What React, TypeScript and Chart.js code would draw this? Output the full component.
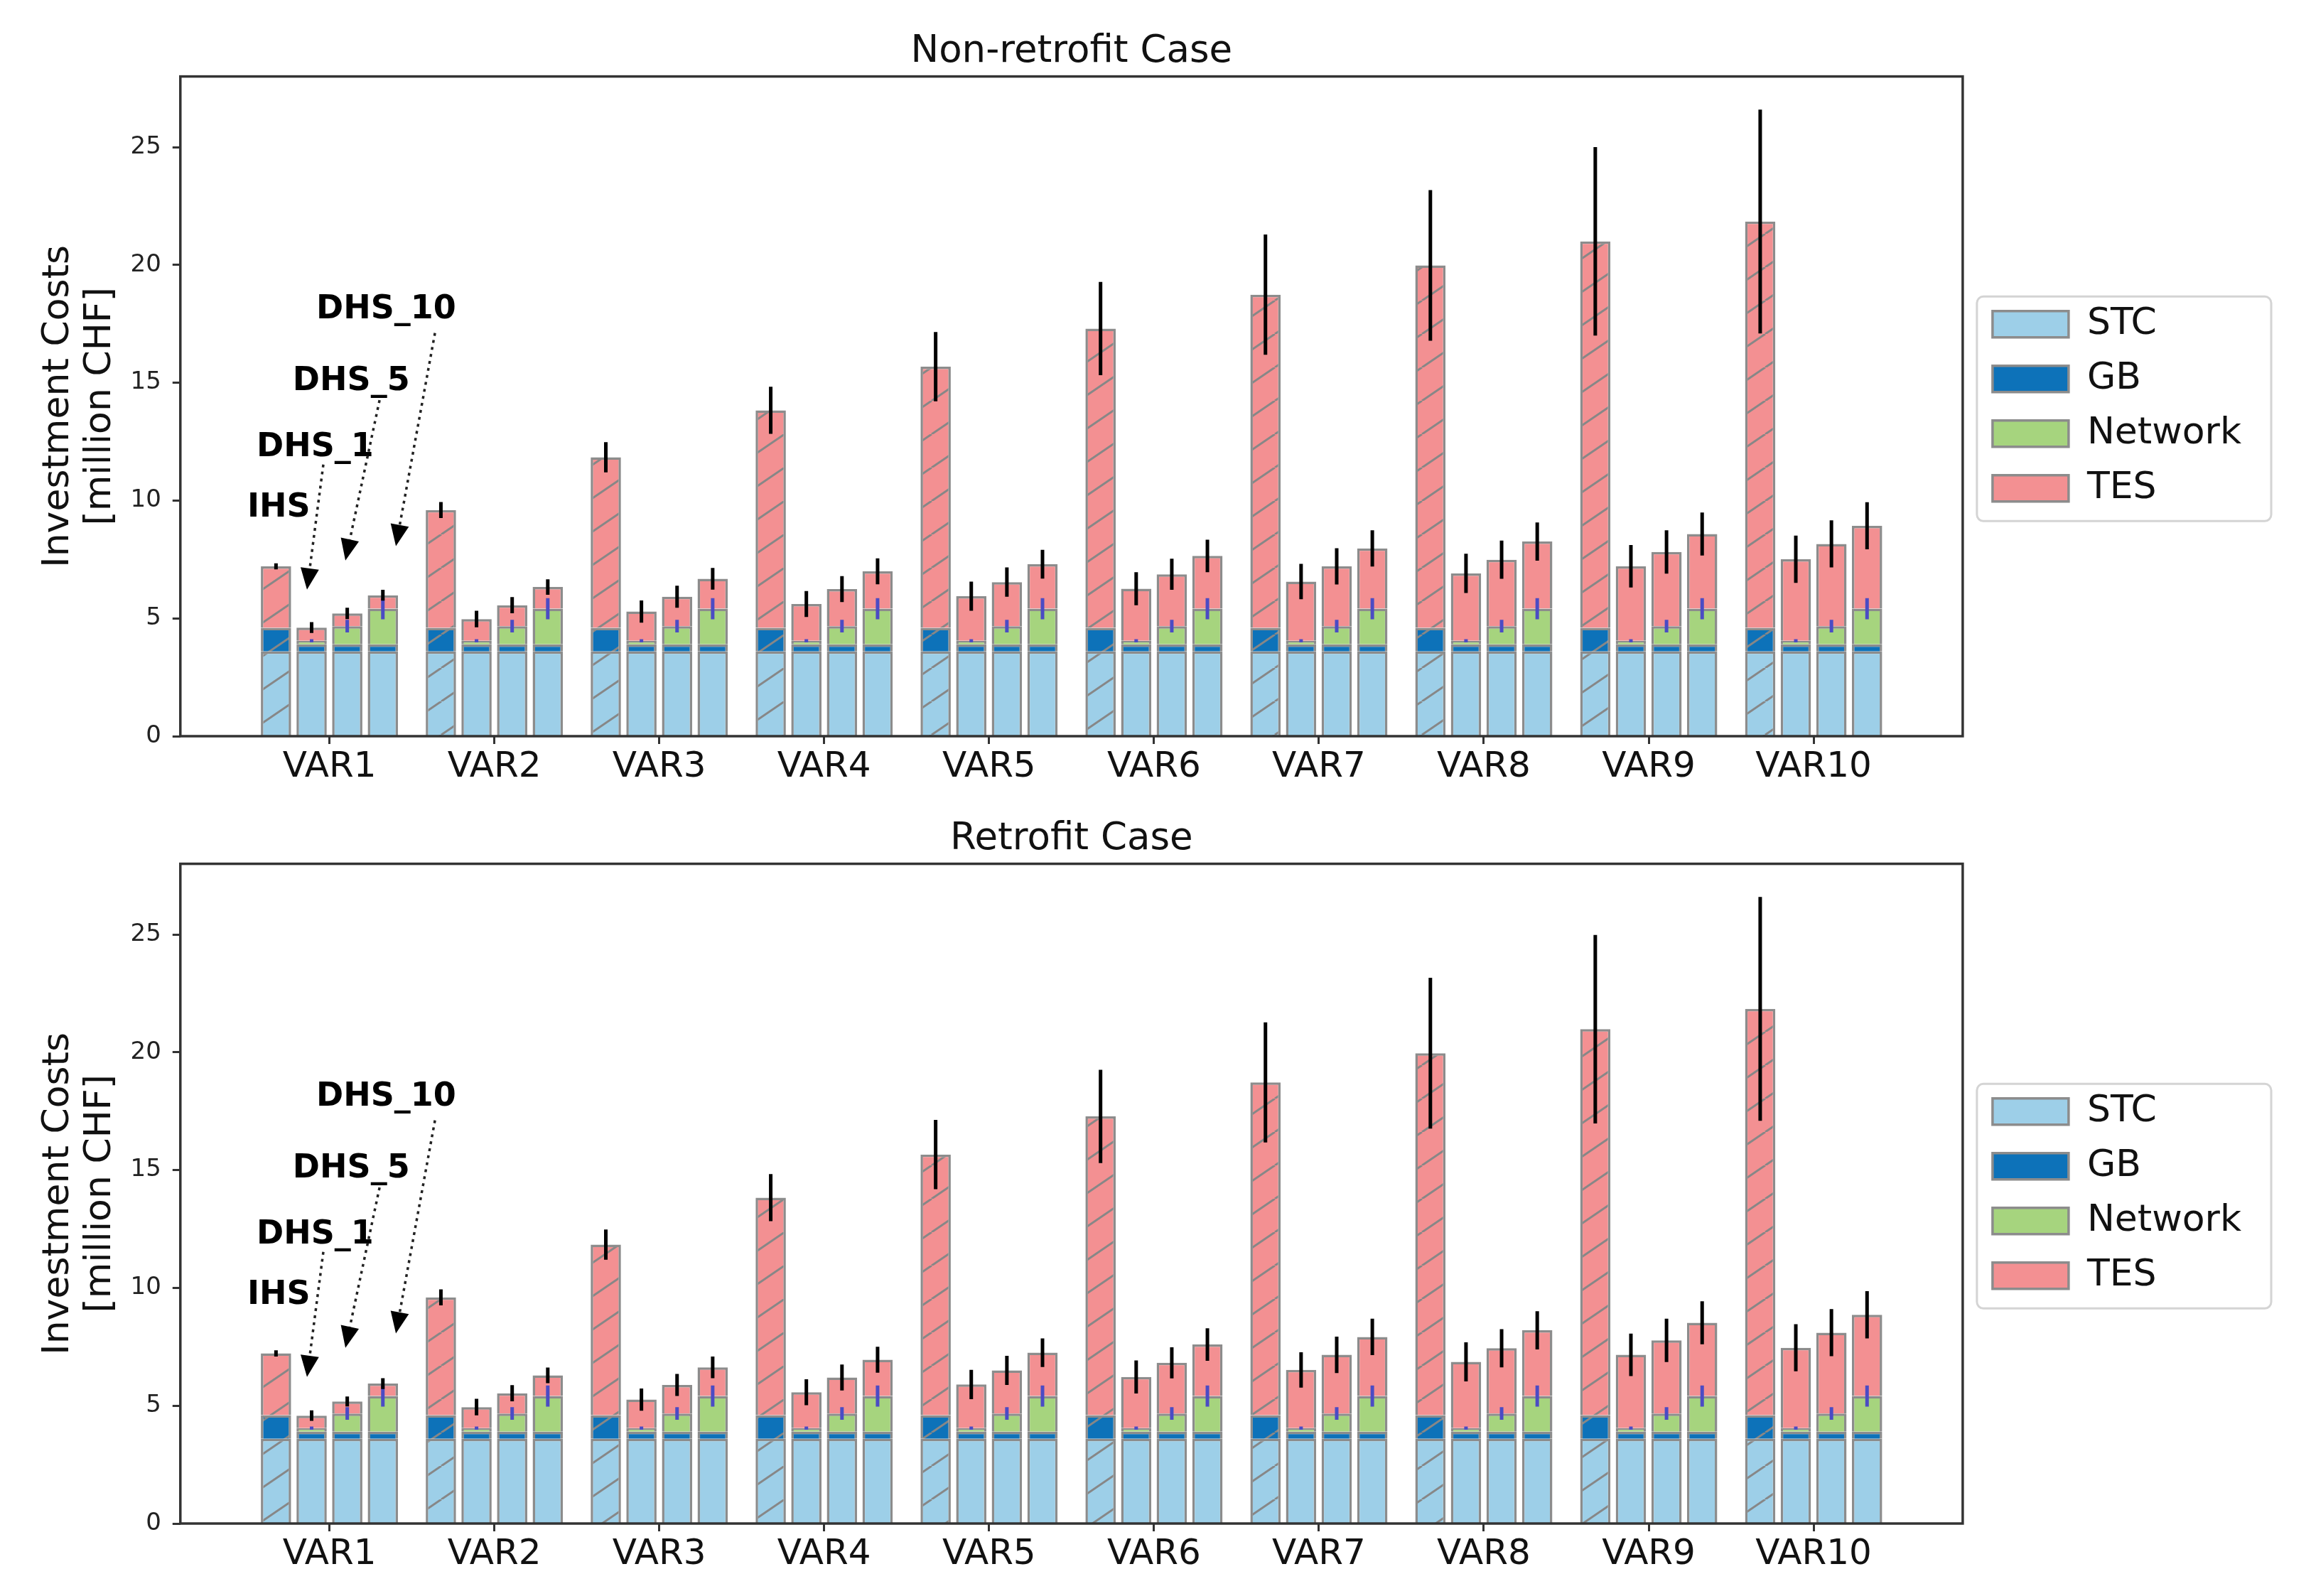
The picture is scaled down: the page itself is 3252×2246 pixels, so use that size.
import React, { useEffect, useRef } from 'react';
import { Chart, registerables } from 'chart.js';

Chart.register(...registerables);
Chart.defaults.font.family = '"DejaVu Sans", sans-serif';

// ---------------- data ----------------
const categories = ['VAR1', 'VAR2', 'VAR3', 'VAR4', 'VAR5', 'VAR6', 'VAR7', 'VAR8', 'VAR9', 'VAR10'];
const variants = ['IHS', 'DHS_1', 'DHS_5', 'DHS_10'];
const components = ['STC', 'GB', 'Network', 'TES'];

// components that are equal for every VAR (per variant IHS, DHS_1, DHS_5, DHS_10)
const stcCost = [3.6, 3.6, 3.6, 3.6];
const gbCost = [1.0, 0.3, 0.3, 0.3];
const networkCost = [0, 0.15, 0.77, 1.51];
const networkErr = [0, 0.07, 0.27, 0.45];

// TES cost, Non-retrofit case
const tesNonRetrofitIHS = [2.61, 5.0, 7.24, 9.23, 11.08, 12.7, 14.14, 15.38, 16.4, 17.24];
const tesNonRetrofitDHS1 = [0.56, 0.92, 1.24, 1.56, 1.89, 2.21, 2.51, 2.86, 3.16, 3.46];
const tesNonRetrofitDHS5 = [0.54, 0.89, 1.25, 1.57, 1.87, 2.2, 2.54, 2.82, 3.15, 3.49];
const tesNonRetrofitDHS10 = [0.57, 0.92, 1.27, 1.59, 1.89, 2.24, 2.56, 2.85, 3.17, 3.52];

// total error, Non-retrofit case
const errNonRetrofitIHS = [0.13, 0.34, 0.64, 1.0, 1.47, 1.98, 2.55, 3.2, 4.0, 4.75];
const errNonRetrofitDHS1 = [0.23, 0.35, 0.47, 0.55, 0.62, 0.7, 0.75, 0.83, 0.9, 1.0];
const errNonRetrofitDHS5 = [0.24, 0.34, 0.47, 0.55, 0.62, 0.66, 0.77, 0.81, 0.92, 1.0];
const errNonRetrofitDHS10 = [0.23, 0.33, 0.46, 0.55, 0.61, 0.69, 0.77, 0.81, 0.91, 1.0];

// TES cost, Retrofit case
const tesRetrofitIHS = [2.62, 5.0, 7.24, 9.23, 11.06, 12.68, 14.12, 15.36, 16.38, 17.24];
const tesRetrofitDHS1 = [0.53, 0.89, 1.21, 1.52, 1.85, 2.17, 2.47, 2.81, 3.11, 3.41];
const tesRetrofitDHS5 = [0.51, 0.86, 1.21, 1.53, 1.83, 2.15, 2.49, 2.77, 3.1, 3.43];
const tesRetrofitDHS10 = [0.53, 0.88, 1.22, 1.54, 1.84, 2.19, 2.51, 2.79, 3.11, 3.45];

// total error, Retrofit case
const errRetrofitIHS = [0.13, 0.34, 0.64, 1.0, 1.47, 1.98, 2.55, 3.2, 4.0, 4.75];
const errRetrofitDHS1 = [0.22, 0.35, 0.47, 0.55, 0.62, 0.7, 0.75, 0.83, 0.9, 1.0];
const errRetrofitDHS5 = [0.21, 0.34, 0.47, 0.55, 0.62, 0.66, 0.77, 0.81, 0.92, 1.0];
const errRetrofitDHS10 = [0.23, 0.33, 0.46, 0.55, 0.61, 0.69, 0.77, 0.81, 0.91, 1.0];

// annotation labels (data coordinates)
const noteLabels = ['IHS', 'DHS_1', 'DHS_5', 'DHS_10'];
const noteTextX = [-0.498, -0.442, -0.223, -0.08];
const noteTextY = [9.68, 12.23, 15.05, 18.08];
const noteArrowFromX = [NaN, -0.037, 0.304, 0.64];
const noteArrowFromY = [NaN, 11.53, 14.26, 17.11];
const noteArrowToX = [NaN, -0.136, 0.097, 0.403];
const noteArrowToY = [NaN, 6.22, 7.46, 8.07];

// ---------------- style ----------------
const COLORS = ['#9dcfe8', '#0d72b9', '#a6d47e', '#f39092'];
const EDGE = '#8c8c8c';
const HATCH = '#878787';
const ERR_COLOR = '#000000';
const NET_ERR_COLOR = '#4b4bc4';
const variantOffsets = [-0.324, -0.108, 0.108, 0.324];
const X_MIN = -0.904;
const X_MAX = 9.904;
const Y_MAX = 28;
const LEGEND_SHIFT = 17;

function makeHatch(color: string): CanvasPattern {
  const w = 69;
  const h = 47;
  const c = document.createElement('canvas');
  c.width = w;
  c.height = h;
  const g = c.getContext('2d') as CanvasRenderingContext2D;
  g.fillStyle = color;
  g.fillRect(0, 0, w, h);
  g.strokeStyle = HATCH;
  g.lineWidth = 3;
  g.beginPath();
  for (const k of [-1, 0, 1]) {
    g.moveTo(k * w, h);
    g.lineTo(k * w + w, 0);
  }
  g.stroke();
  return g.createPattern(c, 'repeat') as CanvasPattern;
}

function buildDatasets(tes: number[][], err: number[][]) {
  const hatches = COLORS.map((c) => makeHatch(c));
  const ds: any[] = [];
  variants.forEach((_vName, v) => {
    const perVar = [stcCost[v], gbCost[v], networkCost[v]];
    let base = categories.map(() => 0);
    let netTop = categories.map(() => 0);
    components.forEach((cName, c) => {
      const vals = categories.map((_, i) => (c < 3 ? perVar[c] : tes[v][i]));
      const data = categories.map((_, i) => ({ x: i + variantOffsets[v], y: [base[i], base[i] + vals[i]] }));
      base = base.map((b, i) => b + vals[i]);
      if (c === 2) netTop = base.slice();
      ds.push({
        label: cName,
        data,
        backgroundColor: v === 0 ? hatches[c] : COLORS[c],
        borderColor: EDGE,
        borderWidth: 3.5,
        grouped: false,
        barPercentage: 0.85,
        categoryPercentage: 1,
        order: 2,
        showInLegend: v === 1,
      });
    });
    if (v > 0) {
      ds.push({
        label: 'network error',
        data: categories.map((_, i) => ({
          x: i + variantOffsets[v],
          y: [netTop[i] - networkErr[v], netTop[i] + networkErr[v]],
        })),
        backgroundColor: NET_ERR_COLOR,
        borderWidth: 0,
        grouped: false,
        maxBarThickness: 5,
        order: 1,
        showInLegend: false,
      });
    }
    ds.push({
      label: 'total error',
      data: categories.map((_, i) => ({
        x: i + variantOffsets[v],
        y: [base[i] - err[v][i], base[i] + err[v][i]],
      })),
      backgroundColor: ERR_COLOR,
      borderWidth: 0,
      grouped: false,
      maxBarThickness: 5,
      order: 0,
      showInLegend: false,
    });
  });
  return ds;
}

const decorPlugin = {
  id: 'decor',
  afterLayout(chart: any) {
    const lg = chart.legend;
    if (lg) {
      lg.left += LEGEND_SHIFT;
      lg.right += LEGEND_SHIFT;
    }
  },
  beforeDraw(chart: any) {
    const lg = chart.legend;
    const hb = lg && lg.legendHitBoxes;
    if (!hb || !hb.length) return;
    const ctx = chart.ctx;
    let right = 0;
    hb.forEach((h: any) => (right = Math.max(right, h.left + h.width)));
    const left = hb[0].left - 22;
    const top = hb[0].top - 13;
    const last = hb[hb.length - 1];
    const bottom = last.top + last.height + 20;
    right += 42;
    ctx.save();
    ctx.beginPath();
    const r = 9;
    ctx.moveTo(left + r, top);
    ctx.arcTo(right, top, right, bottom, r);
    ctx.arcTo(right, bottom, left, bottom, r);
    ctx.arcTo(left, bottom, left, top, r);
    ctx.arcTo(left, top, right, top, r);
    ctx.closePath();
    ctx.fillStyle = '#ffffff';
    ctx.fill();
    ctx.strokeStyle = '#d4d4d4';
    ctx.lineWidth = 3;
    ctx.stroke();
    ctx.restore();
  },
  afterDatasetsDraw(chart: any) {
    const ctx = chart.ctx;
    const { left, top, right, bottom } = chart.chartArea;
    const xs = chart.scales.x;
    const ys = chart.scales.y;
    ctx.save();
    ctx.strokeStyle = '#333333';
    ctx.lineWidth = 3.5;
    ctx.strokeRect(left, top, right - left, bottom - top);

    ctx.fillStyle = '#000000';
    ctx.font = 'bold 46px "DejaVu Sans", sans-serif';
    ctx.textAlign = 'left';
    ctx.textBaseline = 'middle';
    noteLabels.forEach((t, k) => {
      ctx.fillText(t, xs.getPixelForValue(noteTextX[k]), ys.getPixelForValue(noteTextY[k]));
      if (isNaN(noteArrowFromX[k])) return;
      const x0 = xs.getPixelForValue(noteArrowFromX[k]);
      const y0 = ys.getPixelForValue(noteArrowFromY[k]);
      const x1 = xs.getPixelForValue(noteArrowToX[k]);
      const y1 = ys.getPixelForValue(noteArrowToY[k]);
      const len = Math.hypot(x1 - x0, y1 - y0);
      const dx = (x1 - x0) / len;
      const dy = (y1 - y0) / len;
      const hl = 30;
      const hw = 13;
      ctx.save();
      ctx.strokeStyle = '#222222';
      ctx.lineWidth = 3.5;
      ctx.setLineDash([4, 6]);
      ctx.beginPath();
      ctx.moveTo(x0, y0);
      ctx.lineTo(x1 - dx * hl, y1 - dy * hl);
      ctx.stroke();
      ctx.restore();
      ctx.beginPath();
      ctx.moveTo(x1, y1);
      ctx.lineTo(x1 - dx * hl - dy * hw, y1 - dy * hl + dx * hw);
      ctx.lineTo(x1 - dx * hl + dy * hw, y1 - dy * hl - dx * hw);
      ctx.closePath();
      ctx.fill();
    });
    ctx.restore();
  },
};

function makeConfig(title: string, tes: number[][], err: number[][], padBottom: number, titlePad: { top: number; bottom: number }): any {
  return {
    type: 'bar',
    data: { datasets: buildDatasets(tes, err) },
    plugins: [decorPlugin],
    options: {
      animation: false,
      responsive: false,
      devicePixelRatio: 1,
      events: [],
      layout: { padding: { left: 0, top: 0, right: 105, bottom: padBottom } },
      plugins: {
        tooltip: { enabled: false },
        title: {
          display: true,
          text: title,
          fullSize: false,
          color: '#111111',
          font: { size: 53, weight: 'normal' },
          padding: titlePad,
        },
        legend: {
          display: true,
          position: 'right',
          align: 'center',
          fullSize: false,
          labels: {
            boxWidth: 107,
            boxHeight: 37,
            padding: 25,
            color: '#111111',
            font: { size: 52 },
            filter: (item: any, data: any) => !!data.datasets[item.datasetIndex].showInLegend,
          },
        },
      },
      scales: {
        x: {
          type: 'linear',
          min: X_MIN,
          max: X_MAX,
          offset: false,
          afterBuildTicks: (scale: any) => {
            scale.ticks = categories.map((_, i) => ({ value: i }));
          },
          ticks: {
            includeBounds: false,
            autoSkip: false,
            maxRotation: 0,
            minRotation: 0,
            padding: 8,
            color: '#111111',
            font: { size: 50, lineHeight: 1.0 },
            callback: (v: any) => categories[Math.round(v)] ?? '',
          },
          grid: {
            display: true,
            offset: false,
            drawOnChartArea: false,
            drawTicks: true,
            tickLength: 11,
            tickWidth: 3,
            tickColor: '#333333',
          },
          border: { display: false },
        },
        y: {
          type: 'linear',
          min: 0,
          max: Y_MAX,
          ticks: {
            stepSize: 5,
            includeBounds: false,
            padding: 16,
            color: '#222222',
            font: { size: 34 },
          },
          grid: {
            display: true,
            drawOnChartArea: false,
            drawTicks: true,
            tickLength: 11,
            tickWidth: 3,
            tickColor: '#333333',
          },
          border: { display: false },
          title: {
            display: true,
            text: ['Investment Costs', '[million CHF]'],
            color: '#111111',
            font: { size: 52, lineHeight: 1.13 },
            padding: { top: 53, bottom: -3 },
          },
        },
      },
    },
  };
}

export default function App() {
  const topRef = useRef<HTMLCanvasElement | null>(null);
  const botRef = useRef<HTMLCanvasElement | null>(null);

  useEffect(() => {
    const c1 = new Chart(
      topRef.current as HTMLCanvasElement,
      makeConfig(
        'Non-retrofit Case',
        [tesNonRetrofitIHS, tesNonRetrofitDHS1, tesNonRetrofitDHS5, tesNonRetrofitDHS10],
        [errNonRetrofitIHS, errNonRetrofitDHS1, errNonRetrofitDHS5, errNonRetrofitDHS10],
        10,
        { top: 41, bottom: 3 }
      )
    );
    const c2 = new Chart(
      botRef.current as HTMLCanvasElement,
      makeConfig(
        'Retrofit Case',
        [tesRetrofitIHS, tesRetrofitDHS1, tesRetrofitDHS5, tesRetrofitDHS10],
        [errRetrofitIHS, errRetrofitDHS1, errRetrofitDHS5, errRetrofitDHS10],
        25,
        { top: 26, bottom: 3 }
      )
    );
    return () => {
      c1.destroy();
      c2.destroy();
    };
  }, []);

  return (
    <div style={{ position: 'absolute', left: 0, top: 0, width: 3252, height: 2246, background: '#ffffff', overflow: 'hidden' }}>
      <canvas ref={topRef} width={3252} height={1123} style={{ display: 'block', width: 3252, height: 1123 }} />
      <canvas ref={botRef} width={3252} height={1123} style={{ display: 'block', width: 3252, height: 1123 }} />
    </div>
  );
}
